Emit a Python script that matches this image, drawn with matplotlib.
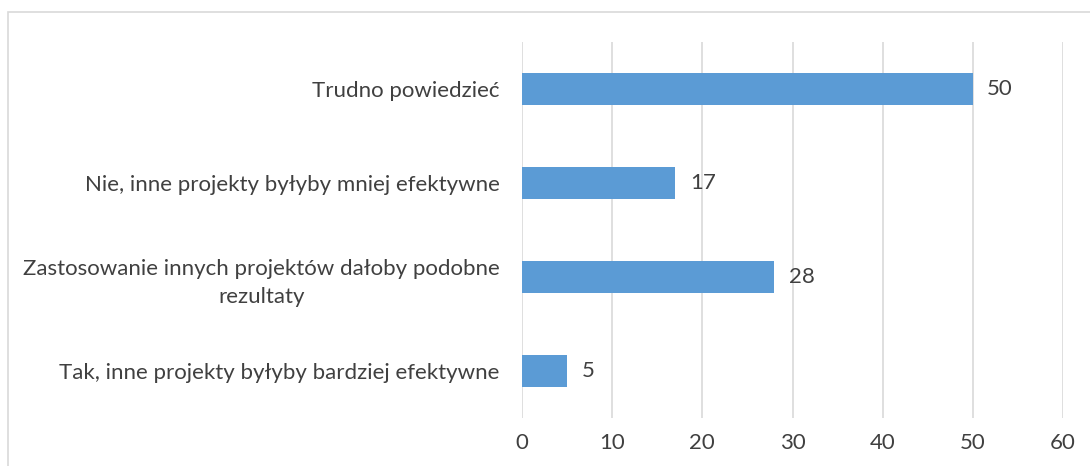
# ocena efektywności projektów - wykres słupkowy poziomy
import matplotlib.pyplot as plt
from matplotlib.patches import Rectangle

# DANE (od dołu do góry)
categories = [
    'Tak, inne projekty byłyby bardziej efektywne',
    'Zastosowanie innych projektów dałoby podobne\nrezultaty',
    'Nie, inne projekty byłyby mniej efektywne',
    'Trudno powiedzieć',
]
values = [5, 28, 17, 50]
x_ticks = [0, 10, 20, 30, 40, 50, 60]

bar_color = '#5B9BD5'
text_color = '#404040'
grid_color = '#D9D9D9'

plt.rcParams['font.family'] = ['Lato', 'DejaVu Sans']

fig = plt.figure(figsize=(10.9, 4.66), dpi=100)
ax = fig.add_axes([522 / 1090, 1 - 418 / 466, (1063 - 522) / 1090, (418 - 42) / 466])

# ramka wykresu
fig.patches.append(Rectangle((8 / 1090, -0.05), 1.1, 1 - 12 / 466 + 0.05,
                             transform=fig.transFigure, fill=False,
                             edgecolor=grid_color, linewidth=1.2))

y = range(len(categories))
ax.barh(y, values, height=0.34, color=bar_color, zorder=3)

for i, v in enumerate(values):
    ax.text(v + 1.6, i, str(v), va='center', ha='left', fontsize=16, color=text_color)

ax.set_xlim(0, 60)
ax.set_ylim(-0.5, len(categories) - 0.5)
ax.set_xticks(x_ticks)
ax.set_yticks(list(y))
ax.set_yticklabels(categories, multialignment='center', linespacing=1.5)
ax.tick_params(axis='both', length=0, labelsize=16, labelcolor=text_color)
ax.tick_params(axis='y', pad=16)
ax.tick_params(axis='x', pad=11)

ax.grid(axis='x', color=grid_color, linewidth=1.2, zorder=0)
for s in ax.spines.values():
    s.set_visible(False)

fig.savefig('out.png', dpi=100)
